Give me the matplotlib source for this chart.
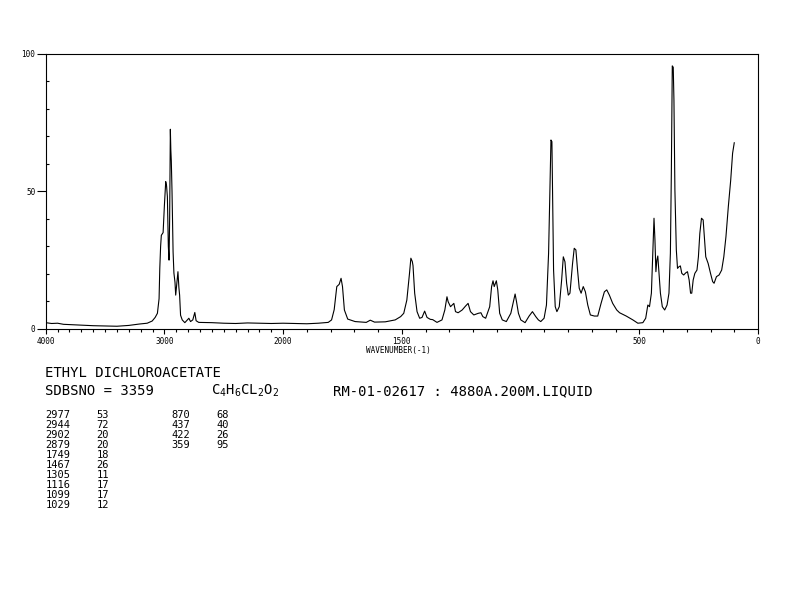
import numpy as np
import matplotlib
matplotlib.use('Agg')
import matplotlib.pyplot as plt
from matplotlib.ticker import FixedLocator, NullFormatter

plt.rcParams['font.family'] = ['DejaVu Sans Mono']
plt.rcParams['mathtext.fontset'] = 'custom'
plt.rcParams['mathtext.rm'] = 'DejaVu Sans Mono'
plt.rcParams['mathtext.it'] = 'DejaVu Sans Mono'

wavenumber = [4000, 3950, 3900, 3850, 3800, 3700, 3600, 3500, 3400, 3300, 3212, 3145,
              3103, 3078, 3059, 3045, 3039, 3032, 3026, 3011, 3000, 2989, 2982, 2975,
              2967, 2961, 2956, 2950, 2946, 2942, 2936, 2927, 2920, 2911, 2905, 2899,
              2886, 2878, 2872, 2864, 2850, 2828, 2794, 2780, 2761, 2744, 2733, 2711,
              2600, 2500, 2400, 2300, 2200, 2100, 2000, 1950, 1900, 1852, 1810, 1796,
              1785, 1774, 1764, 1756, 1750, 1742, 1728, 1697, 1650, 1633, 1615, 1570,
              1528, 1505, 1492, 1479, 1468, 1462, 1456, 1453, 1446, 1436, 1425, 1415,
              1404, 1394, 1380, 1370, 1352, 1331, 1319, 1310, 1305, 1295, 1281, 1274,
              1263, 1246, 1232, 1221, 1211, 1197, 1178, 1167, 1159, 1147, 1130, 1122,
              1116, 1111, 1102, 1096, 1088, 1077, 1060, 1041, 1030, 1023, 1017, 1009,
              999, 981, 964, 950, 936, 925, 915, 901, 891, 882, 877, 872, 868, 865, 861,
              854, 847, 837, 827, 820, 813, 806, 799, 792, 781, 774, 767, 760, 753, 745,
              736, 727, 717, 706, 689, 675, 661, 647, 637, 626, 612, 595, 583, 555, 527,
              506, 485, 473, 464, 457, 449, 443, 438, 434, 430, 426, 422, 417, 411, 403,
              393, 383, 375, 369, 365, 361, 357, 354, 350, 344, 339, 333, 327, 321, 313,
              304, 297, 290, 284, 279, 273, 266, 257, 251, 245, 238, 231, 227, 220, 210,
              200, 191, 185, 175, 164, 153, 144, 135, 125, 115, 107, 100]
intensity = [2.3, 2.0, 2.1, 1.7, 1.6, 1.4, 1.2, 1.1, 1.0, 1.3, 1.8, 2.1,
             2.9, 4.2, 5.7, 11, 22, 30, 34, 35, 45, 53.5, 52, 48,
             30, 25, 40, 72.5, 65, 61, 50, 28, 20.3, 17, 12.3, 15,
             20.8, 15, 12.3, 5, 3.3, 2.3, 3.9, 2.7, 3.3, 6, 3, 2.4,
             2.3, 2.1, 2.0, 2.2, 2.1, 2.0, 2.1, 2.0, 1.9, 2.1, 2.4, 3.3,
             7, 15.4, 16.2, 18.4, 15.4, 6.9, 3.6, 2.7, 2.4, 3.2, 2.5, 2.6,
             3.3, 4.5, 5.7, 10.5, 20, 25.7, 24.5, 23, 13, 6.3, 3.9, 4.2,
             6.5, 4.2, 3.5, 3.4, 2.4, 3.3, 6.9, 11.7, 9.9, 8.1, 9.3, 6.3,
             5.9, 6.9, 8.3, 9.3, 6.3, 5.1, 5.7, 5.9, 4.5, 3.9, 8.1, 15.4,
             17.5, 15.4, 17.5, 14.2, 5.7, 3.3, 2.7, 5.7, 9.9, 12.7, 9.9, 5.7,
             3.3, 2.3, 4.7, 6.3, 4.5, 3.3, 2.7, 3.9, 8.7, 27.5, 49, 68.6, 68, 48, 21.4,
             8.1, 6.3, 8.1, 17.8, 26.2, 24.4, 16.6, 12.3, 13, 23.8, 29.3, 28.7, 21.4, 14.8, 13,
             15.4, 13.5, 8.7, 5.1, 4.7, 4.7, 9.3, 13.5, 14.2, 12.3, 9.3, 6.9, 5.9, 4.7, 3.3,
             2.1, 2.3, 3.9, 8.7, 8.1, 13, 27.5, 40.2, 32.3, 20.8, 25, 26.5, 20.2, 13, 8.1,
             6.9, 8.7, 13, 27.5, 56.5, 95.5, 95, 83, 50.5, 28.7, 22, 22.6, 22.9, 20.2, 19.6,
             20.4, 20.8, 17.8, 13, 13, 17.8, 20.2, 21.4, 26.2, 34.7, 40.2, 39.6, 34.7, 26.2, 23.8,
             20.2, 17.2, 16.6, 19, 19.6, 21.4, 26.2, 33.5, 44.4, 54, 63.8, 67.6]

# peak table
peak_wn_1 = ['2977', '2944', '2902', '2879', '1749', '1467', '1305', '1116', '1099', '1029']
peak_int_1 = ['53', '72', '20', '20', '18', '26', '11', '17', '17', '12']
peak_wn_2 = ['870', '437', '422', '359']
peak_int_2 = ['68', '40', '26', '95']

xticks = [4000, 3000, 2000, 1500, 500, 0]
yticks = [0, 50, 100]


def fwd(w):
    w = np.asarray(w, dtype=float)
    return np.where(w > 2000, 2000 + (w - 2000) / 2.0, w)


def inv(u):
    u = np.asarray(u, dtype=float)
    return np.where(u > 2000, 2000 + (u - 2000) * 2.0, u)


W, H = 794, 595
fig = plt.figure(figsize=(W / 100, H / 100), dpi=100)
ax = fig.add_axes([45.7 / W, 1 - 329 / H, (758 - 45.7) / W, (329 - 53.5) / H])

ax.plot(wavenumber, intensity, color='k', lw=0.8)

ax.set_xscale('function', functions=(fwd, inv))
ax.set_xlim(4000, 0)
ax.set_ylim(0, 100)

ax.xaxis.set_major_locator(FixedLocator(xticks))
ax.xaxis.set_minor_locator(FixedLocator(list(range(0, 4001, 100))))
ax.set_xticklabels([str(t) for t in xticks])
ax.xaxis.set_minor_formatter(NullFormatter())
ax.yaxis.set_major_locator(FixedLocator(yticks))
ax.yaxis.set_minor_locator(FixedLocator(list(range(10, 100, 10))))
ax.set_yticklabels([str(t) for t in yticks])

ax.tick_params(axis='x', which='major', direction='out', length=3.8, width=0.8, pad=2, labelsize=5.5)
ax.tick_params(axis='x', which='minor', direction='out', length=2.3, width=0.8)
ax.tick_params(axis='y', which='major', direction='out', length=6.5, width=0.8, pad=1, labelsize=5.5)
ax.tick_params(axis='y', which='minor', direction='in', length=2.3, width=0.8)
for s in ax.spines.values():
    s.set_linewidth(0.8)

fig.text(398 / W, 1 - 350 / H, 'WAVENUMBER(-1)', ha='center', va='center', fontsize=5.5)

# header texts
fig.text(45 / W, 1 - 373 / H, 'ETHYL DICHLOROACETATE', ha='left', va='center', fontsize=10)
fig.text(45 / W, 1 - 391 / H, 'SDBSNO = 3359', ha='left', va='center', fontsize=10)
fig.text(211 / W, 1 - 391 / H, r'C$_4$H$_6$CL$_2$O$_2$', ha='left', va='center', fontsize=10)
fig.text(333 / W, 1 - 391 / H, 'RM-01-02617 : 4880A.200M.LIQUID', ha='left', va='center', fontsize=10)

for i in range(len(peak_wn_1)) :
    y = 1 - (415 + 10 * i) / H
    fig.text(45.7 / W, y, peak_wn_1[i], ha='left', va='center', fontsize=7.5)
    fig.text(96.7 / W, y, peak_int_1[i], ha='left', va='center', fontsize=7.5)
for i in range(len(peak_wn_2)) :
    y = 1 - (415 + 10 * i) / H
    fig.text(171.7 / W, y, peak_wn_2[i], ha='left', va='center', fontsize=7.5)
    fig.text(216.7 / W, y, peak_int_2[i], ha='left', va='center', fontsize=7.5)

fig.savefig('out.png', dpi=100)
